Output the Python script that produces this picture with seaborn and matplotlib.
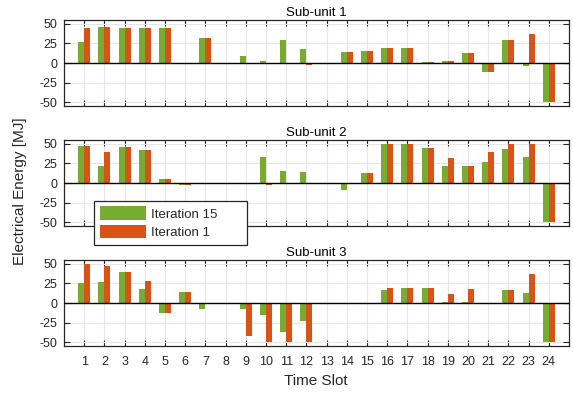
import numpy as np
import pandas as pd
import matplotlib
matplotlib.use("Agg")
import matplotlib.pyplot as plt
from matplotlib.patches import Patch
import seaborn as sns

slots = list(range(1, 24 + 1))
series_names = ["Iteration 15", "Iteration 1"]
colors = ["#77AC30", "#D95319"]
titles = ["Sub-unit 1", "Sub-unit 2", "Sub-unit 3"]

s1_it15 = [27, 46, 45, 45, 45, -0.5, 32, 0, 9, 3, 30, 18, -0.5, 14.5, 15.5, 19.5, 19.5, 1, 3, 13, -12, 30, -4, -50]
s1_it1 = [45, 46, 45, 45, 45, -0.5, 32, 0, -0.5, -0.5, -0.5, -2, -0.5, 14.5, 15.5, 19.5, 19.5, 1, 3, 13, -12, 30, 37, -50]

s2_it15 = [47, 22, 46, 42, 5, -2, 0, 0, 0, 33, 15, 14, 0, -9, 13, 50, 50, 45, 22, 22, 27, 44, 33, -50]
s2_it1 = [47, 40, 46, 42, 5, -2, 0, 0, 0, -2, 0, 0, 0, 0, 13, 50, 50, 45, 32, 22, 40, 50, 50, -50]

s3_it15 = [26, 27, 40, 18, -13, 14, -7.5, 0, -7.5, -15, -37, -23, 0, 0, 0, 17, 19, 19, 1, 1, 0, 17, 13, -50]
s3_it1 = [50, 47, 40, 28, -13, 14, 0, 0, -42, -50, -50, -50, 0, 0, 0, 19, 19, 19, 11.5, 18, 0, 17, 37, -50]

yticks = [-50, -25, 0, 25, 50]

data = [(s1_it15, s1_it1), (s2_it15, s2_it1), (s3_it15, s3_it1)]

sns.set_style("white")
plt.rcParams["font.family"] = ["Liberation Sans", "DejaVu Sans"]
plt.rcParams["axes.unicode_minus"] = False

W, H = 573, 393
fig = plt.figure(figsize=(W / 100, H / 100), dpi=100)

left, right = 64, 569
tops = [20, 140, 260]
ax_h = 86
text_col = "#262626"

for i, (a, b) in enumerate(data):
    top = tops[i]
    ax = fig.add_axes([left / W, 1 - (top + ax_h) / H, (right - left) / W, ax_h / H])
    df = pd.DataFrame({
        "slot": [str(s) for s in slots] * 2,
        "value": list(a) + list(b),
        "series": [series_names[0]] * len(slots) + [series_names[1]] * len(slots),
    })
    sns.barplot(data=df, x="slot", y="value", hue="series", hue_order=series_names,
                order=[str(s) for s in slots], palette=colors, width=0.59, gap=0,
                saturation=1, legend=False, ax=ax, linewidth=0)
    ax.set_axisbelow(True)
    ax.grid(True, color="#e6e6e6", linewidth=0.8)
    ax.axhline(0, color="black", linewidth=1.0, zorder=3)
    ax.set_xlim(-1, 24)
    ax.set_ylim(-55, 55)
    ax.set_yticks(yticks)
    ax.set_yticklabels([str(t) for t in yticks])
    ax.set_xticks(range(len(slots)))
    if i == 2:
        ax.set_xticklabels([str(s) for s in slots])
    else:
        ax.set_xticklabels([])
    ax.set_xlabel("")
    ax.set_ylabel("")
    ax.tick_params(direction="in", length=4, width=0.8, colors=text_col,
                   labelsize=9, top=True, right=True, bottom=True, left=True)
    ax.tick_params(axis="x", pad=7)
    ax.tick_params(axis="y", pad=5)
    for sp in ax.spines.values():
        sp.set_color(text_col)
        sp.set_linewidth(0.9)
        sp.set_visible(True)
    ax.set_title(titles[i], fontsize=9.5, color="black", pad=3)

fig.text(20 / W, 1 - 191 / H, "Electrical Energy [MJ]", rotation=90, ha="center",
         va="center", fontsize=11, color=text_col)
fig.text(316 / W, 1 - 381 / H, "Time Slot", ha="center", va="center",
         fontsize=11, color=text_col)

handles = [Patch(facecolor=c, edgecolor="none") for c in colors]
leg = fig.legend(handles, series_names, loc="upper left",
                 bbox_to_anchor=(94 / W, 1 - 247 / H, 153 / W, 46.5 / H),
                 mode="expand", borderaxespad=0,
                 fontsize=9.5, frameon=True, fancybox=False, handlelength=3.5,
                 handleheight=1.2, handletextpad=0.4, labelspacing=0.3,
                 borderpad=0.45)
leg.get_frame().set_edgecolor(text_col)
leg.get_frame().set_linewidth(0.9)
leg.get_frame().set_facecolor("white")
leg.get_frame().set_alpha(1)
leg.set_zorder(10)

fig.savefig("out.png", dpi=100)
